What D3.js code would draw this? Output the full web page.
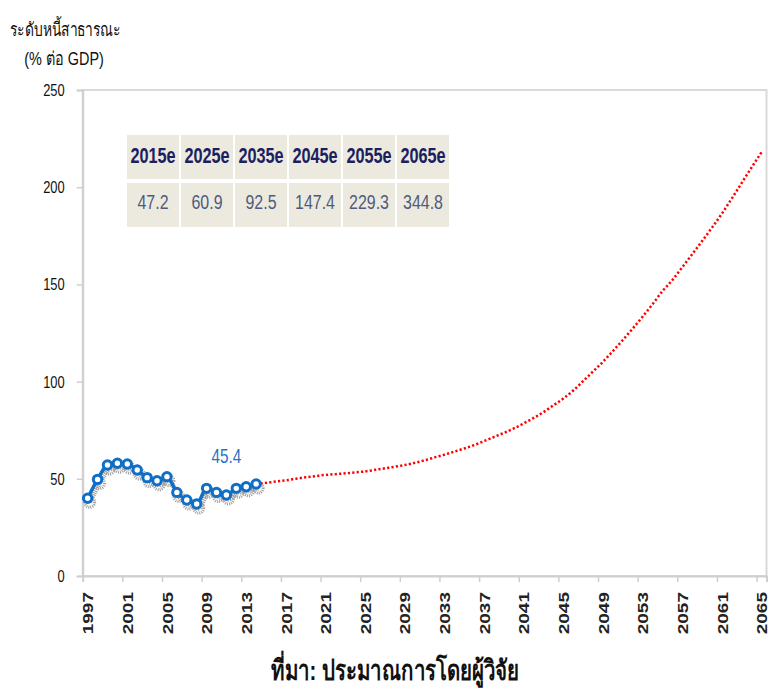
<!DOCTYPE html>
<html>
<head>
<meta charset="utf-8">
<script src="https://cdn.jsdelivr.net/npm/d3@7"></script>
<style>
  body { margin: 0; background: #fff; }
  svg { display: block; font-family: "Liberation Sans", Arial, "Noto Sans", sans-serif; }
</style>
</head>
<body>
<svg id="chart" width="771" height="698"></svg>
<script>
// historical public debt (% of GDP)
const histYears = [1997,1998,1999,2000,2001,2002,2003,2004,2005,2006,2007,2008,2009,2010,2011,2012,2013,2014];
const histValues = [40.0,49.7,57.1,58.0,57.6,54.5,50.6,49.0,51.1,43.0,39.1,37.0,45.1,43.0,41.7,45.1,45.9,47.3];

// projection
const projYears = d3.range(2014, 2066);
const projValues = [47.3,47.9,48.6,49.2,50.0,50.8,51.4,52.0,52.4,52.8,
                    53.3,53.8,54.6,55.4,56.2,57.1,58.2,59.5,61.0,62.4,
                    64.0,65.6,67.3,69.4,71.5,73.6,75.9,78.5,81.3,84.3,
                    87.8,91.3,95.4,100.3,105.2,110.2,115.7,121.4,127.3,133.4,
                    139.8,146.5,152.2,158.8,165.5,172.3,179.2,186.4,194.2,202.2,
                    210.2,218.0];

const tableYears = ["2015e","2025e","2035e","2045e","2055e","2065e"];
const tableValues = ["47.2","60.9","92.5","147.4","229.3","344.8"];

const labelYear = 2011;
const labelText = "45.4";

const yTicks = [0, 50, 100, 150, 200, 250];
const xLabelYears = d3.range(1997, 2066, 4);

/* ---------- layout ---------- */
const sx = 0.76; // the picture is squeezed horizontally
const svg = d3.select("#chart");

const x = d3.scaleLinear().domain([1996.5, 2065.5]).range([82.7, 766.5]);
const y = d3.scaleLinear().domain([0, 250]).range([576, 90]);

const grey = "#cfcfcf";

/* ---------- frame ---------- */
svg.append("rect")
  .attr("x", x.range()[0]).attr("y", y.range()[1])
  .attr("width", x.range()[1] - x.range()[0])
  .attr("height", y.range()[0] - y.range()[1])
  .attr("fill", "none")
  .attr("stroke", "#d9d9d9")
  .attr("stroke-width", 2);

/* ---------- y axis ---------- */
const yAxis = svg.append("g")
  .attr("transform", `translate(${x.range()[0]},0)`)
  .call(d3.axisLeft(y).tickValues(yTicks).tickSize(6).tickPadding(0));
yAxis.select(".domain").attr("stroke", grey).attr("stroke-width", 2);
yAxis.selectAll(".tick line").attr("stroke", grey).attr("stroke-width", 1.5);
yAxis.selectAll(".tick text")
  .attr("x", -18 / sx)
  .attr("transform", `scale(${sx},1)`)
  .attr("font-size", 17)
  .attr("fill", "#111");

/* ---------- x axis ---------- */
const xTickAxis = svg.append("g")
  .attr("transform", `translate(0,${y.range()[0]})`)
  .call(d3.axisBottom(x).tickValues(xLabelYears.map(d => d - 0.5)).tickSize(6).tickFormat(""));
xTickAxis.select(".domain").attr("stroke", grey).attr("stroke-width", 2);
xTickAxis.selectAll(".tick line").attr("stroke", grey).attr("stroke-width", 1.5);

const xLabelAxis = svg.append("g")
  .attr("transform", `translate(0,${y.range()[0]})`)
  .call(d3.axisBottom(x).tickValues(xLabelYears).tickSize(0).tickFormat(d3.format("d")));
xLabelAxis.select(".domain").remove();
xLabelAxis.selectAll(".tick text")
  .attr("x", 0).attr("y", 0).attr("dy", "0.36em")
  .attr("text-anchor", "end")
  .attr("transform", `translate(0,16) scale(${sx},1) rotate(-90)`)
  .attr("font-size", 19)
  .attr("font-weight", "bold")
  .attr("fill", "#222");

/* ---------- data ---------- */
const proj = projYears.map((d, i) => ({ year: d, value: projValues[i] }));
const hist = histYears.map((d, i) => ({ year: d, value: histValues[i] }));

const line = d3.line()
  .x(d => x(d.year))
  .y(d => y(d.value))
  .curve(d3.curveMonotoneX);

/* ---------- shadow of the blue series ---------- */
const shadow = svg.append("g")
  .attr("transform", "translate(2,4)");
shadow.append("path")
  .datum(hist)
  .attr("d", line)
  .attr("fill", "none")
  .attr("stroke", "#9a9a9a")
  .attr("stroke-width", 5)
  .attr("stroke-dasharray", "1 1");
shadow.selectAll("circle")
  .data(hist)
  .enter()
  .append("circle")
  .attr("cx", d => x(d.year))
  .attr("cy", d => y(d.value))
  .attr("r", 5)
  .attr("fill", "none")
  .attr("stroke", "#a0a0a0")
  .attr("stroke-width", 3)
  .attr("stroke-dasharray", "1 1");

/* ---------- projection (dotted red) ---------- */
svg.append("path")
  .datum(proj)
  .attr("d", line)
  .attr("fill", "none")
  .attr("stroke", "#ff0000")
  .attr("stroke-width", 2.5)
  .attr("stroke-dasharray", "2.2 2.2");

/* ---------- historical (blue with markers) ---------- */
const histGroup = svg.append("g");
histGroup.append("path")
  .datum(hist)
  .attr("d", line)
  .attr("fill", "none")
  .attr("stroke", "#0f6fc6")
  .attr("stroke-width", 3.5);
histGroup.selectAll("circle")
  .data(hist)
  .enter()
  .append("circle")
  .attr("cx", d => x(d.year))
  .attr("cy", d => y(d.value))
  .attr("r", 4.2)
  .attr("fill", "#fff")
  .attr("stroke", "#0f6fc6")
  .attr("stroke-width", 3);

const labelPoint = hist.find(d => d.year === labelYear);
svg.append("text")
  .attr("transform", `translate(${x(labelPoint.year)},${y(labelPoint.value) - 32}) scale(${sx},1)`)
  .attr("text-anchor", "middle")
  .attr("font-size", 20)
  .attr("fill", "#1f72c4")
  .text(labelText);

/* ---------- table ---------- */
const tableLeft = 127, cellW = 54, gap = 2;
const table = svg.append("g");
const cols = table.selectAll("g.col")
  .data(tableYears.map((d, i) => ({ head: d, value: tableValues[i] })))
  .enter()
  .append("g")
  .attr("class", "col")
  .attr("transform", (d, i) => `translate(${tableLeft + i * cellW},0)`);

cols.append("rect")
  .attr("x", 0).attr("y", 135)
  .attr("width", cellW - gap).attr("height", 44)
  .attr("fill", "#eceadf");
cols.append("rect")
  .attr("x", 0).attr("y", 183)
  .attr("width", cellW - gap).attr("height", 44)
  .attr("fill", "#eceadf");

cols.append("text")
  .attr("transform", `translate(${(cellW - gap) / 2},163) scale(${sx - 0.02},1)`)
  .attr("text-anchor", "middle")
  .attr("font-size", 22)
  .attr("font-weight", "bold")
  .attr("fill", "#1b2060")
  .text(d => d.head);
cols.append("text")
  .attr("transform", `translate(${(cellW - gap) / 2},209) scale(${sx},1)`)
  .attr("text-anchor", "middle")
  .attr("font-size", 21)
  .attr("fill", "#505a7e")
  .text(d => d.value);

/* ---------- titles ---------- */
svg.append("text")
  .attr("transform", `translate(65,36) scale(${sx - 0.03},1)`)
  .attr("text-anchor", "middle")
  .attr("font-size", 19)
  .attr("fill", "#111")
  .text("ระดับหนี้สาธารณะ");
svg.append("text")
  .attr("transform", `translate(64,65) scale(${sx},1)`)
  .attr("text-anchor", "middle")
  .attr("font-size", 19)
  .attr("fill", "#111")
  .text("(% ต่อ GDP)");

svg.append("text")
  .attr("transform", `translate(395,680) scale(${sx - 0.03},1)`)
  .attr("text-anchor", "middle")
  .attr("font-size", 28)
  .attr("font-weight", "bold")
  .attr("fill", "#111")
  .text("ที่มา: ประมาณการโดยผู้วิจัย");
</script>
</body>
</html>
